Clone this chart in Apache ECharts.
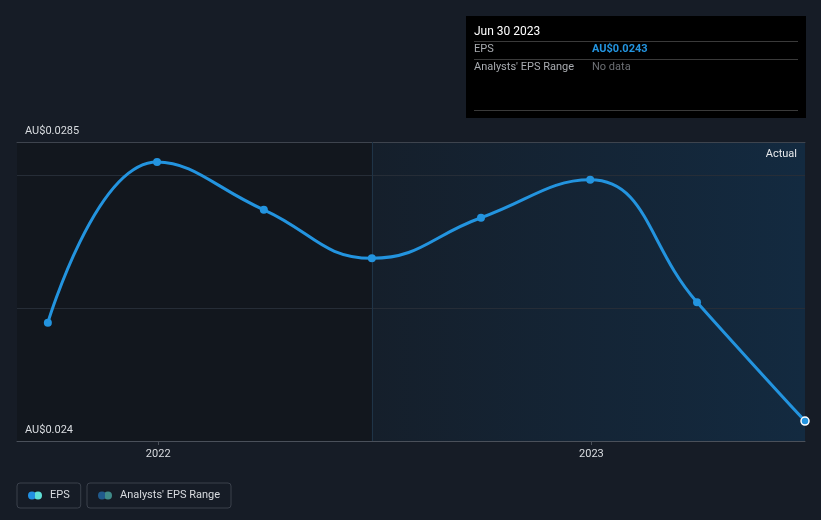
<!DOCTYPE html>
<html><head><meta charset="utf-8">
<script src="https://cdn.jsdelivr.net/npm/echarts@6/dist/echarts.min.js"></script>
<style>html,body{margin:0;padding:0;background:#161c26;}#c{width:821px;height:520px;}</style>
</head><body><div id="c"></div>
<script>
var dates = ['2021-09-30','2021-12-31','2022-03-31','2022-06-30','2022-09-30','2022-12-31','2023-03-31','2023-06-30'];
var eps = [0.02578, 0.02820, 0.02748, 0.02675, 0.02736, 0.02793, 0.02609, 0.0243];
var yLabels = [0.024, 0.0285];
var xLabelDates = ['2022-01-01','2023-01-01'];
var xMin = '2021-09-04', xMax = '2023-06-30', actualStart = '2022-06-30';
var tipDate = 'Jun 30 2023', tipEps = 'AU$0.0243';

function ts(s){var p=s.split('-');return Date.UTC(+p[0],+p[1]-1,+p[2]);}
var seriesData = dates.map(function(d,i){
  var o = {value:[ts(d), eps[i]]};
  if (i === dates.length-1) o.itemStyle = {borderColor:'#ffffff', borderWidth:1.5};
  return o;
});
var font = 'Roboto, "Noto Sans", sans-serif';
var icon = 'path://M4,0A4,4 0 1,0 4,8A4,4 0 1,0 4,0ZM10,0A4,4 0 1,0 10,8A4,4 0 1,0 10,0Z';
function split(c1,c2){return new echarts.graphic.LinearGradient(0,0,1,0,[{offset:0,color:c1},{offset:0.5,color:c1},{offset:0.5,color:c2},{offset:1,color:c2}]);}
var chart = echarts.init(document.getElementById('c'), null, {renderer:'canvas'});
chart.setOption({
  backgroundColor:'#161c26',
  animation:false,
  grid:{left:17, right:16, top:142, bottom:79},
  xAxis:[
   {type:'value', min:ts(xMin), max:ts(xMax), scale:true, z:3,
    axisLine:{show:true, lineStyle:{color:'#4a505a', width:1}},
    axisTick:{show:true, customValues:xLabelDates.map(ts), length:4, lineStyle:{color:'#4a505a'}},
    axisLabel:{customValues:xLabelDates.map(ts), color:'#d9dce0', fontFamily:font, fontSize:11, margin:8,
      formatter:function(v){return String(new Date(v).getUTCFullYear());}},
    splitLine:{show:false}},
   {type:'value', position:'top', min:ts(xMin), max:ts(xMax), scale:true, z:3,
    axisLine:{show:true, lineStyle:{color:'#3e444e', width:1}},
    axisTick:{show:false}, axisLabel:{show:false}, splitLine:{show:false}}
  ],
  yAxis:{type:'value', min:0.024, max:0.0285, interval:0.002, z:3,
    axisLine:{show:false}, axisTick:{show:false},
    axisLabel:{customValues:yLabels, showMinLabel:true, showMaxLabel:true,
      inside:true, verticalAlign:'bottom', margin:8, padding:[0,0,5,0],
      color:'#d9dce0', fontFamily:font, fontSize:11,
      formatter:function(v){return 'AU$' + (Math.round(v*10000)/10000);}},
    splitLine:{show:true, lineStyle:{color:'#262d37', width:1}}},
  legend:[
    {data:[{name:'EPS', itemStyle:{color:split('#2190e2','#5fe0d6')}}],
     left:17, top:483, orient:'horizontal', itemWidth:14, itemHeight:8, icon:icon,
     borderColor:'#3a404b', borderWidth:1, borderRadius:3, padding:[7,11,7,11],
     textStyle:{color:'#d9dce0', fontFamily:font, fontSize:11, padding:[0,0,0,3]}},
    {data:[{name:"Analysts' EPS Range", itemStyle:{color:split('#205a8c','#3f8a88')}}],
     left:87, top:483, orient:'horizontal', itemWidth:14, itemHeight:8, icon:icon,
     borderColor:'#3a404b', borderWidth:1, borderRadius:3, padding:[7,11,7,11],
     textStyle:{color:'#d9dce0', fontFamily:font, fontSize:11, padding:[0,0,0,3]}}
  ],
  series:[
    {name:'bg', type:'line', data:[], z:1, silent:true,
     markArea:{silent:true, z:1,
       label:{show:true, position:'insideTopRight', offset:[-3,2], color:'#e6e8eb', fontFamily:font, fontSize:11},
       data:[
       [{xAxis:ts(xMin), name:'', itemStyle:{color:'#12171e'}}, {xAxis:ts(actualStart)}],
       [{xAxis:ts(actualStart), name:'Actual',
         itemStyle:{color:new echarts.graphic.LinearGradient(0,0,1,0,[{offset:0,color:'#151f2b'},{offset:1,color:'#132a40'}])}},
        {xAxis:ts(xMax)}]
     ]}},
    {name:'EPS', type:'line', data:seriesData, smooth:0.45, symbol:'circle', symbolSize:8,
     clip:false,
     lineStyle:{color:'#2394df', width:3}, itemStyle:{color:'#2394df'}, z:5,
     markLine:{silent:true, symbol:'none', label:{show:false}, z:4,
       data:[{xAxis:ts(actualStart), lineStyle:{color:'#1f3447', width:1, type:'solid'}}]}},
    {name:"Analysts' EPS Range", type:'line', data:[], itemStyle:{color:'#205a8c'}}
  ],
  graphic:[{type:'group', left:466, top:16, children:[
    {type:'rect', shape:{x:0,y:0,width:340,height:102}, style:{fill:'#000000'}},
    {type:'text', x:8, y:10, style:{text:tipDate, fill:'#ffffff', font:'12px '+font}},
    {type:'line', shape:{x1:8,y1:25.5,x2:332,y2:25.5}, style:{stroke:'#3a3a3a', lineWidth:1}},
    {type:'text', x:8, y:28, style:{text:'EPS', fill:'#a9acb1', font:'11px '+font}},
    {type:'text', x:126, y:28, style:{text:tipEps, fill:'#2394df', font:'bold 11px '+font}},
    {type:'line', shape:{x1:8,y1:43.5,x2:332,y2:43.5}, style:{stroke:'#3a3a3a', lineWidth:1}},
    {type:'text', x:8, y:46, style:{text:"Analysts' EPS Range", fill:'#a9acb1', font:'11px '+font}},
    {type:'text', x:126, y:46, style:{text:'No data', fill:'#6c6f74', font:'11px '+font}},
    {type:'line', shape:{x1:8,y1:94.5,x2:332,y2:94.5}, style:{stroke:'#3a3a3a', lineWidth:1}}
  ]}]
});
</script></body></html>
